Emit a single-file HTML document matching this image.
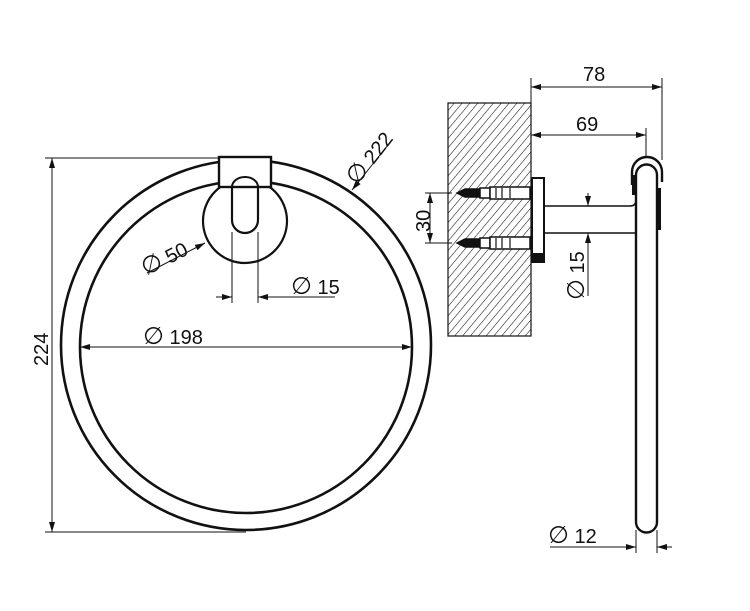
<!DOCTYPE html>
<html><head><meta charset="utf-8"><style>
html,body{margin:0;padding:0;background:#fff;}
svg{display:block;}
text{font-family:"Liberation Sans",sans-serif;fill:#111;}
.d{font-size:24px;font-family:"DejaVu Sans",sans-serif;}
</style></head><body>
<svg width="750" height="611" viewBox="0 0 750 611" xmlns="http://www.w3.org/2000/svg">
<defs>
<marker id="a" viewBox="0 0 10 6" refX="10" refY="3" markerWidth="12" markerHeight="6" orient="auto-start-reverse" markerUnits="userSpaceOnUse"><path d="M0,0L10,3L0,6z" fill="#111"/></marker>
<pattern id="h" width="6" height="6" patternUnits="userSpaceOnUse" patternTransform="rotate(40)"><line x1="0" y1="0" x2="0" y2="6" stroke="#111" stroke-width="1.1"/></pattern>
</defs>
<g fill="none" stroke="#111">
<circle cx="246" cy="345" r="185" stroke-width="2.6"/>
<circle cx="246" cy="347" r="166" stroke-width="2.6"/>
<circle cx="245" cy="221" r="42" stroke-width="2.2" fill="#fff"/>
<rect x="219" y="157" width="52" height="30" stroke-width="2.4" fill="#fff"/>
<path d="M232,187 V220 A13,13 0 0 0 258,220 V187" stroke-width="2.2"/>
<path d="M232,187 A13,10 0 0 1 258,187" stroke-width="2"/>
<line x1="45" y1="158" x2="218" y2="158" stroke-width="1"/>
<line x1="45" y1="532" x2="246" y2="532" stroke-width="1"/>
<line x1="52" y1="158" x2="52" y2="532" stroke-width="1" marker-start="url(#a)" marker-end="url(#a)"/>
<line x1="80" y1="347" x2="412" y2="347" stroke-width="1" marker-start="url(#a)" marker-end="url(#a)"/>
<line x1="147" y1="273" x2="205" y2="243" stroke-width="1" marker-end="url(#a)"/>
<line x1="232" y1="232" x2="232" y2="303" stroke-width="1"/>
<line x1="258" y1="232" x2="258" y2="303" stroke-width="1"/>
<line x1="216" y1="297" x2="232" y2="297" stroke-width="1" marker-end="url(#a)"/>
<line x1="335" y1="297" x2="258" y2="297" stroke-width="1" marker-end="url(#a)"/>
<line x1="392" y1="140" x2="352" y2="190" stroke-width="1" marker-end="url(#a)"/>
<rect x="448" y="103" width="83" height="233" fill="url(#h)" stroke-width="1.2"/>
<g stroke-width="1.5">
<path d="M457,193 L465,189 H480 V197 H465 Z" fill="#111"/>
<rect x="480" y="188" width="10" height="10" fill="#fff"/>
<rect x="490" y="187" width="40" height="12" fill="#fff"/>
<path d="M457,243 L465,239 H480 V247 H465 Z" fill="#111"/>
<rect x="480" y="238" width="10" height="10" fill="#fff"/>
<rect x="490" y="237" width="40" height="12" fill="#fff"/>
</g>
<g stroke-width="1.2"><line x1="496" y1="188" x2="496" y2="198"/><line x1="502" y1="188" x2="502" y2="198"/><line x1="510" y1="188" x2="510" y2="198"/><line x1="496" y1="238" x2="496" y2="248"/><line x1="502" y1="238" x2="502" y2="248"/><line x1="510" y1="238" x2="510" y2="248"/></g>
<rect x="532" y="178" width="12" height="84" stroke-width="2" fill="#fff"/>
<rect x="533" y="253" width="10" height="8" fill="#111" stroke="none"/>
<path d="M544,206 H630 Q636,206 636,200" stroke-width="1.6"/>
<line x1="544" y1="233" x2="636" y2="233" stroke-width="1.6"/>
<path d="M636,175 V522 A10.5,10.5 0 0 0 657,522 V175 A10.5,10.5 0 0 0 636,175" stroke-width="2.4" fill="#fff"/>
<path d="M632,185 V172 A15,15 0 0 1 662,172 V182" stroke-width="2.4"/>
<rect x="657" y="188" width="4" height="42" fill="#111" stroke="none"/>
<rect x="632" y="175" width="3" height="20" fill="#111" stroke="none"/>
<line x1="531" y1="78" x2="531" y2="103" stroke-width="1"/>
<line x1="662" y1="78" x2="662" y2="160" stroke-width="1"/>
<line x1="531" y1="87" x2="662" y2="87" stroke-width="1" marker-start="url(#a)" marker-end="url(#a)"/>
<line x1="646" y1="128" x2="646" y2="158" stroke-width="1"/>
<line x1="531" y1="135" x2="646" y2="135" stroke-width="1" marker-start="url(#a)" marker-end="url(#a)"/>
<line x1="425" y1="193" x2="452" y2="193" stroke-width="1"/>
<line x1="425" y1="243" x2="452" y2="243" stroke-width="1"/>
<line x1="430" y1="193" x2="430" y2="243" stroke-width="1" marker-start="url(#a)" marker-end="url(#a)"/>
<line x1="588" y1="193" x2="588" y2="206" stroke-width="1" marker-end="url(#a)"/>
<line x1="588" y1="252" x2="588" y2="233" stroke-width="1" marker-end="url(#a)"/>
<line x1="588" y1="252" x2="588" y2="296" stroke-width="1"/>
<line x1="636" y1="530" x2="636" y2="553" stroke-width="1"/>
<line x1="657" y1="530" x2="657" y2="553" stroke-width="1"/>
<line x1="550" y1="547" x2="636" y2="547" stroke-width="1" marker-end="url(#a)"/>
<line x1="672" y1="547" x2="657" y2="547" stroke-width="1" marker-end="url(#a)"/>
</g>
<g font-size="20">
<text transform="translate(48,366) rotate(-90)">224</text>
<text x="143" y="344"><tspan class="d">∅</tspan> 198</text>
<text transform="translate(146,276) rotate(-27)"><tspan class="d">∅</tspan> 50</text>
<text x="291" y="294"><tspan class="d">∅</tspan> 15</text>
<text transform="translate(357,186) rotate(-52)"><tspan class="d">∅</tspan> 222</text>
<text x="583" y="81">78</text>
<text x="576" y="131">69</text>
<text transform="translate(430,232) rotate(-90)">30</text>
<text transform="translate(584,300) rotate(-90)"><tspan class="d">∅</tspan> 15</text>
<text x="548" y="543"><tspan class="d">∅</tspan> 12</text>
</g>
</svg>
</body></html>
